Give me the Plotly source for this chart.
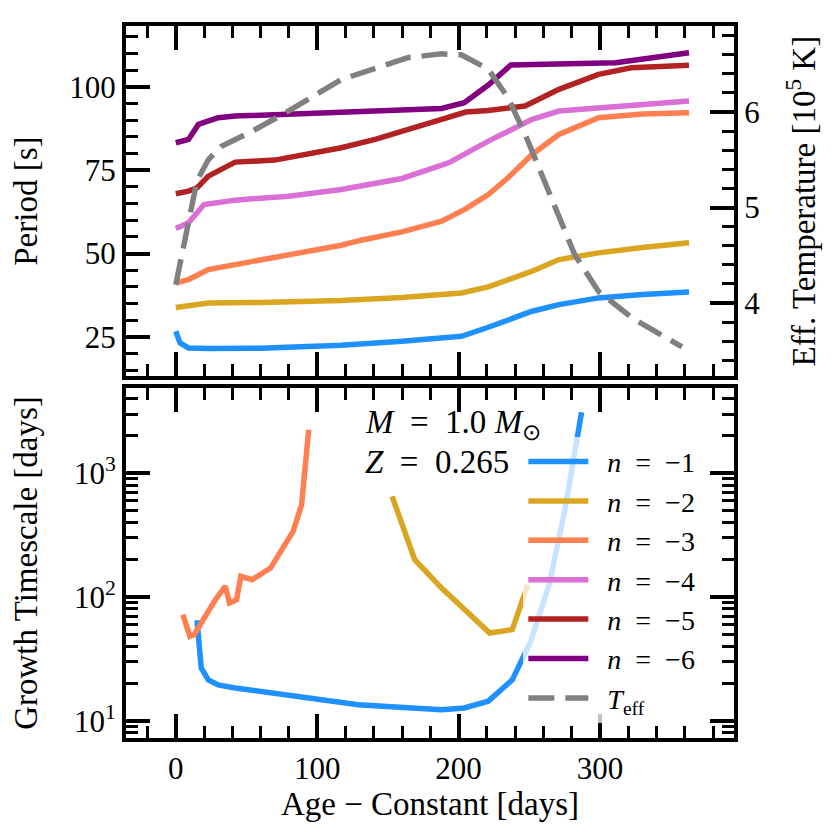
import plotly.graph_objects as go

# ---------------- data ----------------
age_n1 = [0, 3, 9, 23, 60, 117, 160, 202, 221, 252, 271, 299, 330, 363]
per_n1 = [26.7, 23.2, 21.7, 21.5, 21.6, 22.5, 23.7, 25.2, 27.9, 32.7, 34.7, 36.7, 37.7, 38.5]

age_n2 = [0, 23, 60, 117, 160, 202, 221, 252, 271, 299, 330, 363]
per_n2 = [33.8, 35.2, 35.3, 35.9, 36.8, 38.2, 40.0, 44.7, 48.2, 50.2, 51.8, 53.2]

age_n3 = [0, 9, 23, 42, 70, 117, 131, 160, 188, 205, 221, 235, 252, 271, 299, 330, 363]
per_n3 = [41.2, 42.2, 45.2, 46.7, 48.7, 52.5, 54.0, 56.5, 59.7, 63.4, 67.7, 72.7, 79.7, 85.7, 90.7, 91.8, 92.2]

age_n4 = [0, 9, 20, 42, 80, 117, 160, 193, 221, 252, 271, 299, 363]
per_n4 = [57.5, 59.2, 64.7, 66.0, 67.2, 69.2, 72.5, 77.2, 83.7, 90.2, 92.7, 93.7, 95.7]

age_n5 = [0, 9, 15, 23, 42, 70, 117, 141, 188, 205, 221, 247, 271, 299, 322, 363]
per_n5 = [67.9, 68.7, 69.7, 73.2, 77.4, 78.0, 81.7, 84.2, 90.2, 92.4, 92.9, 94.2, 99.2, 103.7, 105.7, 106.4]

age_n6 = [0, 9, 16, 30, 42, 70, 188, 204, 221, 237, 311, 363]
per_n6 = [83.2, 84.2, 88.7, 90.7, 91.2, 91.7, 93.5, 95.2, 100.5, 106.5, 107.2, 110.2]

age_teff = [0, 3, 9, 15, 23, 32, 54, 75, 117, 164, 188, 202, 221, 235, 247, 264, 282, 299, 323, 358]
teff_1e5 = [4.19, 4.40, 4.86, 5.28, 5.50, 5.64, 5.80, 5.97, 6.34, 6.57, 6.61, 6.60, 6.45, 6.15, 5.77, 5.14, 4.51, 4.12, 3.84, 3.54]

age_g1 = [15, 18, 23, 30, 42, 82, 129, 188, 204, 221, 238, 251, 264, 275, 282, 287]
tau_g1 = [65, 26.8, 21.4, 19.5, 18.4, 15.8, 13.5, 12.3, 12.7, 14.4, 21.4, 43.8, 125, 492, 1510, 3100]

age_g2 = [153, 169, 188, 205, 222, 238, 249]
tau_g2 = [650, 200, 118, 76.6, 51.2, 54.5, 126]

age_g3 = [5, 10, 13, 28, 35, 38, 43, 46, 54, 61, 67, 75, 83, 89, 94]
tau_g3 = [72, 48, 49.5, 95, 122, 89.5, 95, 147, 138, 156, 171, 241, 339, 556, 2240]

EQ = "\u2002=\u2002"
labels = ["\u2002<i>n</i>" + EQ + "−1", "\u2002<i>n</i>" + EQ + "−2",
          "\u2002<i>n</i>" + EQ + "−3", "\u2002<i>n</i>" + EQ + "−4",
          "\u2002<i>n</i>" + EQ + "−5", "\u2002<i>n</i>" + EQ + "−6"]
teff_label = "\u2002<i>T</i><sub>eff</sub>"
colors = ["#1E90FF", "#DAA520", "#FF7F50", "#DA70D6", "#B22222", "#800080"]

tau_tickvals = [10, 100, 1000]
tau_ticktext = ["10<sup>1</sup>", "10<sup>2</sup>", "10<sup>3</sup>"]
tau_minor_vals = [7, 8, 9, 20, 30, 40, 50, 60, 70, 80, 90,
                  200, 300, 400, 500, 600, 700, 800, 900, 2000, 3000, 4000]

# ---------------- figure ----------------
FONT = "Liberation Serif, Times New Roman, serif"
TICK_SIZE = 31
TITLE_SIZE = 33
LW = 5.5
fig = go.Figure()

top_ages = [age_n1, age_n2, age_n3, age_n4, age_n5, age_n6]
top_pers = [per_n1, per_n2, per_n3, per_n4, per_n5, per_n6]
for a, p, lab, c in zip(top_ages, top_pers, labels, colors):
    fig.add_trace(go.Scatter(x=a, y=p, mode="lines", name=lab,
                             line=dict(color=c, width=LW),
                             xaxis="x", yaxis="y"))
fig.add_trace(go.Scatter(x=age_teff, y=teff_1e5, mode="lines", name=teff_label,
                         line=dict(color="#808080", width=LW, dash="26px,11px"),
                         xaxis="x", yaxis="y2"))

for a, t, c in zip([age_g1, age_g2, age_g3], [tau_g1, tau_g2, tau_g3], colors[:3]):
    fig.add_trace(go.Scatter(x=a, y=t, mode="lines", showlegend=False,
                             line=dict(color=c, width=LW),
                             xaxis="x2", yaxis="y3"))

# invisible helper traces so that the minor-tick overlay axes are drawn
for xa, ya, xs, ys in [("x3", "y4", age_n1, per_n1), ("x", "y5", age_teff, teff_1e5),
                       ("x4", "y6", age_g1, tau_g1)]:
    fig.add_trace(go.Scatter(x=xs, y=ys, mode="lines", showlegend=False, hoverinfo="skip",
                             opacity=0, line=dict(width=0), xaxis=xa, yaxis=ya))

axis_common = dict(showline=True, linecolor="black", linewidth=4,
                   ticks="inside", ticklen=24, tickwidth=3.5, tickcolor="black",
                   showgrid=False, zeroline=False, automargin=False,
                   tickfont=dict(family=FONT, size=TICK_SIZE, color="black"))
minor_common = dict(showline=False, ticks="inside", ticklen=12, tickwidth=3,
                    tickcolor="black", showgrid=False, zeroline=False,
                    showticklabels=False, automargin=False)

XR = [-35.2, 394.8]
YR_P = [13.2, 118.2]
YR_T = [3.231, 6.902]
YR_G = [0.861, 3.688]
TOP = [0.508, 1]
BOT = [0, 0.4916]

fig.update_layout(
    width=832, height=832,
    margin=dict(l=118, r=106, t=18, b=102, autoexpand=False),
    paper_bgcolor="white", plot_bgcolor="white",
    font=dict(family=FONT, size=TICK_SIZE, color="black"),
    xaxis=dict(domain=[0, 1], anchor="y", range=XR, tickmode="linear", tick0=0, dtick=100,
               showticklabels=False, mirror="ticks", **axis_common),
    yaxis=dict(domain=TOP, anchor="x", range=YR_P,
               tickmode="linear", dtick=25, tick0=0,
               title=dict(text="Period [s]", font=dict(family=FONT, size=TITLE_SIZE), standoff=48),
               **axis_common),
    yaxis2=dict(overlaying="y", side="right", anchor="x", range=YR_T,
                tickmode="linear", dtick=1, tick0=0,
                title=dict(text="Eff. Temperature [10<sup>5</sup> K]",
                           font=dict(family=FONT, size=TITLE_SIZE), standoff=34),
                **axis_common),
    xaxis2=dict(domain=[0, 1], anchor="y3", range=XR, tickmode="linear", tick0=0, dtick=100,
                mirror="ticks",
                title=dict(text="Age − Constant [days]", font=dict(family=FONT, size=TITLE_SIZE), standoff=0),
                **axis_common),
    yaxis3=dict(domain=BOT, anchor="x2", type="log", range=YR_G,
                tickvals=tau_tickvals, ticktext=tau_ticktext, mirror="ticks",
                title=dict(text="Growth Timescale [days]", font=dict(family=FONT, size=TITLE_SIZE), standoff=40),
                **axis_common),
    # minor-tick overlays
    xaxis3=dict(overlaying="x", anchor="y", range=XR, tickmode="linear", tick0=0, dtick=20,
                mirror="ticks", **minor_common),
    yaxis4=dict(overlaying="y", anchor="x3", side="left", range=YR_P,
                tickmode="linear", tick0=0, dtick=5, **minor_common),
    yaxis5=dict(overlaying="y", anchor="x", side="right", range=YR_T,
                tickmode="linear", tick0=0, dtick=0.2, **minor_common),
    xaxis4=dict(overlaying="x2", anchor="y6", range=XR, tickmode="linear", tick0=0, dtick=20,
                mirror="ticks", **minor_common),
    yaxis6=dict(overlaying="y3", anchor="x4", type="log", range=YR_G,
                tickmode="array", tickvals=tau_minor_vals, mirror="ticks", **minor_common),
    legend=dict(x=0.6535, y=0.423, xanchor="left", yanchor="top",
                bgcolor="rgba(255,255,255,0.75)", borderwidth=0,
                font=dict(family=FONT, size=28, color="black"),
                itemwidth=60, tracegroupgap=0),
    showlegend=True,
)

fig.add_annotation(xref="paper", yref="paper", x=0.39, y=0.441,
                   xanchor="left", yanchor="middle", showarrow=False,
                   text="<i>M</i>" + EQ + "1.0 <i>M</i><sub>⊙</sub>",
                   font=dict(family=FONT, size=TITLE_SIZE, color="black"))
fig.add_annotation(xref="paper", yref="paper", x=0.39, y=0.387,
                   xanchor="left", yanchor="middle", showarrow=False,
                   text="<i>Z</i>" + EQ + "0.265",
                   font=dict(family=FONT, size=TITLE_SIZE, color="black"))

fig.write_html("out.html")
